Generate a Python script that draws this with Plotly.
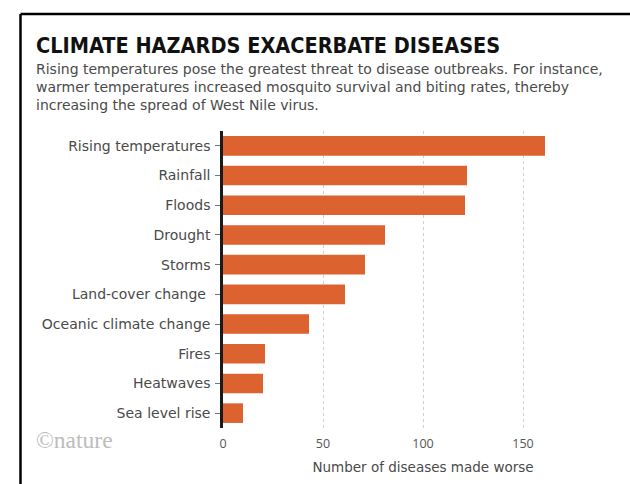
import plotly.graph_objects as go

categories = ["Rising temperatures", "Rainfall", "Floods", "Drought", "Storms",
              "Land-cover change ", "Oceanic climate change", "Fires", "Heatwaves",
              "Sea level rise"]
values = [161, 122, 121, 81, 71, 61, 43, 21, 20, 10]
x_ticks = [0, 50, 100, 150, 200]

W, H = 630, 484
L, T = 223, 131
PW, PH = 400, 297
R = W - L - PW
B = H - T - PH

def px(x):  # figure pixel -> paper x
    return (x - L) / PW

def py(y):  # figure pixel -> paper y
    return (T + PH - y) / PH

ORANGE = "#DC6230"
GREY = "#4a4a4a"
SANS = "DejaVu Sans"

fig = go.Figure(go.Bar(
    x=values, y=categories, orientation="h",
    marker=dict(color=ORANGE, line=dict(width=0)),
    width=0.66,
))

fig.update_layout(
    width=W, height=H,
    margin=dict(l=L, r=R, t=T, b=B),
    paper_bgcolor="white", plot_bgcolor="white",
    showlegend=False,
    font=dict(family=SANS, color=GREY),
    xaxis=dict(
        range=[0, 200], tickvals=x_ticks, ticktext=[str(v) for v in x_ticks],
        showgrid=True, gridcolor="#cfcfcf", griddash="dot", gridwidth=1,
        zeroline=False, showline=False, ticks="",
        ticklabelstandoff=6,
        tickfont=dict(size=12.5, color="#555555", family="Open Sans"),
        title=dict(text="Number of diseases made worse", standoff=12,
                   font=dict(size=13.5, color=GREY, family=SANS)),
    ),
    yaxis=dict(
        autorange="reversed", showline=True, linecolor="#1a1a1a", linewidth=2.5,
        ticks="outside", ticklen=5, tickcolor="#777777", tickwidth=1,
        ticklabelstandoff=2,
        tickfont=dict(size=14, color=GREY, family=SANS),
        showgrid=False, zeroline=False,
    ),
)

# frame lines (decoration), kept inside the figure
fig.add_shape(type="line", xref="paper", yref="paper",
              x0=px(20.5), x1=px(W), y0=py(14), y1=py(14),
              line=dict(color="black", width=2.5))
fig.add_shape(type="line", xref="paper", yref="paper",
              x0=px(20.5), x1=px(20.5), y0=py(14), y1=py(H),
              line=dict(color="black", width=2.5))

fig.add_annotation(text="<b>CLIMATE HAZARDS EXACERBATE DISEASES</b>",
                   xref="paper", yref="paper", x=px(34), y=py(60),
                   xanchor="left", yanchor="bottom", showarrow=False,
                   font=dict(family="DejaVu Sans Condensed, Roboto Condensed, Roboto", size=21.5,
                             color="#111111"))
fig.add_annotation(text="Rising temperatures pose the greatest threat to disease outbreaks. For instance,<br>"
                        "warmer temperatures increased mosquito survival and biting rates, thereby<br>"
                        "increasing the spread of West Nile virus.",
                   xref="paper", yref="paper", x=px(34), y=py(59),
                   xanchor="left", yanchor="top", align="left", showarrow=False,
                   font=dict(family=SANS, size=14, color=GREY))
fig.add_annotation(text="©nature", xref="paper", yref="paper", x=px(34), y=py(440),
                   xanchor="left", yanchor="middle", showarrow=False,
                   font=dict(family="Liberation Serif", size=23.5, color="#bcbcbc"))

fig.write_html("out.html",
               config={"displayModeBar": False},
               post_script="document.body.style.margin='0';"
                           "document.body.style.overflow='hidden';"
                           "document.documentElement.style.overflow='hidden';")
